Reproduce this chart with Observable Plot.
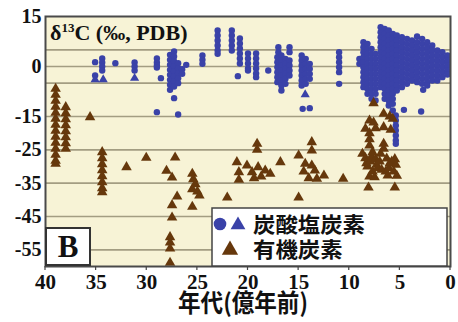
<!DOCTYPE html>
<html><head><meta charset="utf-8">
<script src="https://cdn.jsdelivr.net/npm/d3@7"></script>
<script src="https://cdn.jsdelivr.net/npm/@observablehq/plot@0.6"></script>
<style>body{margin:0;background:#fff;} svg{display:block;}</style>
</head><body><div id="chart"></div>
<script>
// ---- data (age in 100 Myr, delta13C in permil) ----
const xTicks = [40, 35, 30, 25, 20, 15, 10, 5, 0];
const yTickLabels = [15, 0, -15, -25, -35, -45, -55];
const yGrid = [5, 0, -5, -15, -25, -35, -45, -55];
const legendLabels = ["炭酸塩炭素", "有機炭素"];
const axisTitle = "年代(億年前)";
const panelLabel = "B";

// carbonate carbon (circles): [age, values...]
const carbonateCols = [
  [35.1, 1.3, -2.7], [34.4, 2.4, 1.2, 0, -1.2], [33.1, 1.0], [31.2, 1.2, 0, -1.2],
  [29.0, 2.4, 1.2, 0.3, -0.3, -13.7], [28.6, -3.5],
  [27.7, 3.5, 2, 0.5, -1, -2.5, -4, -5.5, -7], [27.3, 4.5, 3, 1.5, 0, -1.5, -3, -4.5, -6, -9.5],
  [26.9, 1, -0.5, -2, -3.5, -5, -14.4], [26.5, -0.8, -2.2], [26.1, 0.5],
  [24.5, 3.3, 2, 0.8], [23.0, 10.8, 9.3, 7.8, 6.3, 4.8, 3.8], [21.6, 10.8, 9.3, 7.8, 6.3, 4.8],
  [20.8, 8.4, 6.9, 5.4, 3.9, 2.4, 0.9], [21.0, -2.9], [20.0, 3.9, 2.4, 0.9, -0.6, -1.2],
  [19.2, 3.9, 2.4, 0.9, -0.6, -2.1, -3.2], [18.0, -1.2], [17.0, 5.8, 4.3], [15.9, 5.8, 4.3],
  [17.1, 2.8, 1.3, -0.2, -1.7, -3.2, -4.7], [16.7, 3.3, 1.8, 0.3, -1.2, -2.7, -4.2, -5.7, -7.2],
  [16.3, 2.3, 0.8, -0.7, -2.2, -3.7, -5.2], [15.9, 1.8, 0.3, -1.2, -2.7],
  [14.7, 3.3, 1.8, 0.3, -1.2, -2.7, -4.2, -5.7], [14.3, 2.3, 0.8, -0.7, -2.2, -3.7, -5.2],
  [13.9, 0.8, -0.7, -2.2, -3.7, -12.5], [14.6, -12.7],
  [11.0, 4.3, 2.8, 1.3, -0.2, -1.7, -5.2],
  [9.0, 2.3, 0.8], [8.6, 7.3, 5.8, 4.3, 2.8, 1.3, -0.2, -1.7, -3.2, -4.7, -6.2],
  [8.2, 6.8, 5.3, 3.8, 2.3, 0.8, -0.7, -2.2, -3.7, -5.2, -6.7, -8.2],
  [7.8, 5.3, 3.8, 2.3, 0.8, -0.7, -2.2, -3.7, -5.2, -6.7, -8.2, -9.7],
  [7.4, 3.8, 2.3, 0.8, -0.7, -2.2, -3.7, -5.2, -6.7, -8.2, -10.2],
  [6.9, 11.8, 10.3, 8.8, 7.3, 5.8, 4.3, 2.8, 1.3, -0.2, -1.7, -3.2, -4.7, -6.2],
  [6.5, 11.3, 9.8, 8.3, 6.8, 5.3, 3.8, 2.3, 0.8, -0.7, -2.2, -3.7, -5.2, -6.7, -8.2, -9.7],
  [6.1, 10.8, 9.3, 7.8, 6.3, 4.8, 3.3, 1.8, 0.3, -1.2, -2.7, -4.2, -5.7, -7.2, -8.7, -10.2, -11.7],
  [5.7, 9.8, 8.3, 6.8, 5.3, 3.8, 2.3, 0.8, -0.7, -2.2, -3.7, -5.2, -6.7, -8.2, -9.7, -11.2, -13.2],
  [5.4, -14.7, -16.2, -17.7, -19.2, -20.7, -22.2, -23.2],
  [5.3, 9.3, 7.8, 6.3, 4.8, 3.3, 1.8, 0.3, -1.2, -2.7, -4.2, -5.7, -7.2],
  [4.8, 8.8, 7.3, 5.8, 4.3, 2.8, 1.3, -0.2, -1.7, -3.2, -4.7, -6.2],
  [4.3, 8.3, 6.8, 5.3, 3.8, 2.3, 0.8, -0.7, -2.2, -3.7, -5.2],
  [3.8, 7.8, 6.3, 4.8, 3.3, 1.8, 0.3, -1.2, -2.7, -4.2],
  [3.3, 9.0, 7.3, 5.8, 4.3, 2.8, 1.3, -0.2, -1.7, -3.2, -4.7],
  [2.8, 8.3, 6.8, 5.3, 3.8, 2.3, 0.8, -0.7, -2.2, -3.7, -5.2],
  [2.3, 7.3, 5.8, 4.3, 2.8, 1.3, -0.2, -1.7, -3.2, -4.7, -5.7],
  [1.8, 6.3, 4.8, 3.3, 1.8, 0.3, -1.2, -2.7, -4.2],
  [1.3, 4.8, 3.3, 1.8, 0.3, -1.2, -2.7, -4.2],
  [0.8, 4.3, 2.8, 1.3, -0.2, -1.7, -3.2],
  [0.3, 3.3, 1.8, 0.3, -1.2, -2.4],
  [4.6, -13.0], [2.9, -13.5], [2.7, -7.0]
];
// carbonate carbon (triangles)
const carbonateTriCols = [[35.1, -3.9], [34.3, -3.9], [31.2, -3.5], [14.35, -8.4]];

// organic carbon (triangles)
const organicCols = [
  [39.0, -6.7, -8.5, -10.3, -12.1, -13.9, -15.7, -17.5, -19.3, -21.1, -22.9, -24.7, -26.5, -28.3, -29.2],
  [38.0, -12.2, -14.0, -15.8, -17.6, -19.4, -21.2, -23.0, -24.7],
  [35.6, -15.2], [34.4, -25.7, -27.5, -29.3, -31.1, -32.9, -34.7, -36.5, -37.7],
  [32.0, -30.2], [30.05, -27.4], [28.05, -31.3], [27.5, -33.3, -41.6, -45.3], [27.2, -27.3],
  [27.0, -39.0], [27.7, -51.2, -52.8, -54.6, -58.9],
  [25.5, -32.2, -36.8, -42.1], [25.4, -33.8], [25.2, -35.3], [25.0, -37.5], [24.8, -38.7],
  [22.05, -39.3], [21.1, -28.7], [20.9, -31.7, -34.0], [20.1, -29.7], [19.1, -23.2, -25.0],
  [19.6, -31.7], [19.0, -30.2], [19.4, -33.5], [18.7, -33.0], [18.3, -31.2], [17.8, -32.2],
  [16.8, -28.7], [15.0, -26.7, -39.3], [14.5, -31.5], [14.35, -29.2], [14.0, -33.5],
  [13.7, -22.7, -25.2, -29.7], [13.4, -31.2], [13.2, -33.7], [12.5, -32.7], [10.6, -33.7],
  [8.7, -26.2], [8.4, -18.7, -27.5], [8.3, -29.0], [8.2, -30.0], [8.1, -36.3],
  [8.0, -16.2, -20.0, -21.8, -23.7, -33.0], [7.9, -28.5], [7.8, -27.0], [7.7, -25.7, -31.5],
  [7.6, -11.0, -16.8], [7.5, -33.2], [7.4, -18.5, -27.8], [7.3, -29.5], [7.2, -30.5],
  [7.0, -28.5], [6.9, -26.2], [6.8, -31.0], [6.6, -14.2, -18.2, -23.2, -24.7], [6.4, -31.5],
  [6.3, -27.6], [6.2, -32.7], [6.1, -30.5], [6.0, -15.0, -29.0], [5.9, -19.0], [5.8, -28.5],
  [5.7, -15.7], [5.6, -31.5], [5.5, -36.3, -27.8], [5.4, -29.5], [5.3, -32.8]
];

const flatten = cols => cols.flatMap(([age, ...vals]) => vals.map(v => ({age, v})));
const carbonate = flatten(carbonateCols);
const carbonateTri = flatten(carbonateTriCols);
const organic = flatten(organicCols);

const blue = "#3a42a8", brown = "#66380c";
const serif = "'Liberation Serif', 'Times New Roman', serif";
const cjk = "'Noto Sans CJK JP', sans-serif";

const W = 458, H = 322, mL = 45, mR = 8, mT = 16, mB = 56;

const plot = Plot.plot({
  width: W, height: H,
  marginLeft: mL, marginRight: mR, marginTop: mT, marginBottom: mB,
  x: {domain: [40, 0], axis: null},
  y: {domain: [-60, 15], axis: null},
  marks: [
    Plot.frame({fill: "#f7f3d6"}),
    Plot.ruleY(yGrid, {stroke: "#a39d82", strokeWidth: 1.6}),
    Plot.dot(carbonate, {x: "age", y: "v", r: 3.2, fill: blue}),
    Plot.dot(carbonateTri, {x: "age", y: "v", r: 3.4, symbol: "triangle", fill: blue}),
    Plot.dot(organic, {x: "age", y: "v", r: 3.9, symbol: "triangle", fill: brown}),
    Plot.frame({stroke: "#4a4a4a", strokeWidth: 2}),
    Plot.text(xTicks, {x: d => d, frameAnchor: "bottom", dy: 22, text: d => String(d),
      fontFamily: serif, fontWeight: "bold", fontSize: 21, fill: "#111"}),
    Plot.text(yTickLabels, {y: d => d, frameAnchor: "left", dx: -4, textAnchor: "end",
      text: d => String(d), fontFamily: serif, fontWeight: "bold", fontSize: 20, fill: "#111"})
  ]
});
document.getElementById("chart").appendChild(plot);

const svg = d3.select(plot);
const xs = plot.scale("x"), ys = plot.scale("y");
const fx0 = Math.min(...xs.range), fx1 = Math.max(...xs.range);
const fy0 = Math.min(...ys.range), fy1 = Math.max(...ys.range);

// bottom tick marks
svg.append("g").selectAll("line").data(xTicks).join("line")
  .attr("x1", d => xs.apply(d)).attr("x2", d => xs.apply(d))
  .attr("y1", fy1).attr("y2", fy1 + 4).attr("stroke", "#444").attr("stroke-width", 1.2);

// title inside the plot
const t = svg.append("text").attr("x", fx0 + 5).attr("y", fy0 + 24).attr("text-anchor", "start")
  .attr("font-family", serif).attr("font-weight", "bold").attr("font-size", 22).attr("fill", "#111");
t.append("tspan").text("δ");
t.append("tspan").attr("font-size", 13).attr("dy", -8).text("13");
t.append("tspan").attr("dy", 8).text("C (‰, PDB)");

// panel label box
svg.append("rect").attr("x", fx0 + 1).attr("y", fy1 - 38).attr("width", 44).attr("height", 37)
  .attr("fill", "#fff").attr("stroke", "#333").attr("stroke-width", 2);
svg.append("text").attr("x", fx0 + 23).attr("y", fy1 - 9).attr("text-anchor", "middle")
  .attr("font-family", serif).attr("font-weight", "bold").attr("font-size", 31).attr("fill", "#111")
  .text(panelLabel);

// legend box
const lx = 212, ly = fy1 - 58;
svg.append("rect").attr("x", lx).attr("y", ly).attr("width", fx1 - 3 - lx).attr("height", 58)
  .attr("fill", "#fff").attr("stroke", "#444").attr("stroke-width", 1.5);
svg.append("circle").attr("cx", lx + 8).attr("cy", ly + 16).attr("r", 6.3).attr("fill", blue);
svg.append("path").attr("d", d3.symbol(d3.symbolTriangle, 95)()).attr("fill", blue)
  .attr("transform", `translate(${lx + 26},${ly + 17})`);
svg.append("path").attr("d", d3.symbol(d3.symbolTriangle, 115)()).attr("fill", brown)
  .attr("transform", `translate(${lx + 18},${ly + 42})`);
legendLabels.forEach((s, i) => {
  svg.append("text").attr("x", lx + 41).attr("y", ly + 24 + i * 25).attr("text-anchor", "start")
    .attr("font-family", cjk).attr("font-weight", "bold").attr("font-size", 21)
    .attr("textLength", s.length * 22.4).attr("lengthAdjust", "spacingAndGlyphs")
    .attr("fill", "#111").text(s);
});

// x axis title
svg.append("text").attr("x", 243).attr("y", fy1 + 46).attr("text-anchor", "middle")
  .attr("font-family", cjk).attr("font-weight", "bold").attr("font-size", 25)
  .attr("textLength", 130).attr("lengthAdjust", "spacingAndGlyphs")
  .attr("fill", "#111").text(axisTitle);
</script>
</body></html>
